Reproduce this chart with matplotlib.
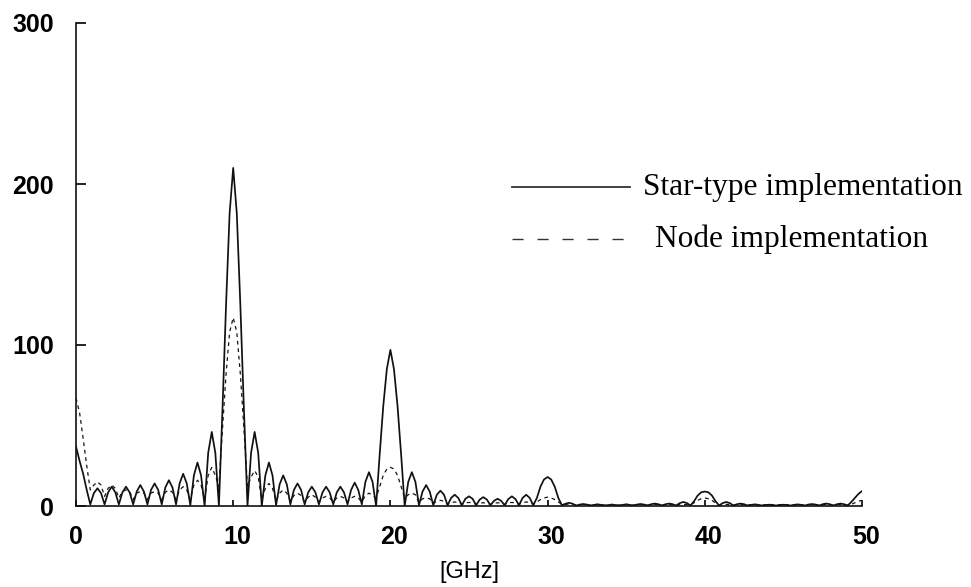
import numpy as np
import matplotlib
matplotlib.use("Agg")
import matplotlib.pyplot as plt
from matplotlib.transforms import ScaledTranslation

# spectrum, one sample every 10/44 GHz (0 .. 50 GHz)
freq_ghz = np.linspace(0, 50, 221)

# star-type implementation (solid), one row = null, rise, top, fall of a lobe
star_type = [
    37, 28, 20, 10,
    1, 8, 11, 8,
    1, 8.5, 12, 8.5,
    1, 8.5, 12, 8.5,
    1, 9, 13, 9,
    1, 10, 14, 10,
    1, 11.5, 16, 11.5,
    1, 14, 20, 14,
    0.5, 19, 27, 19,
    0, 33, 46, 33,
    0, 60, 125, 182,
    210, 182, 125, 60,
    0, 33, 46, 33,
    0, 19, 27, 19,
    0.5, 13.5, 19, 13.5,
    1, 10, 14, 10,
    1, 8.5, 12, 8.5,
    1, 8.5, 12, 8.5,
    1, 8.5, 12, 8.5,
    1, 10, 14.5, 10,
    1, 15, 21, 15,
    0, 32, 62, 85,
    97, 85, 62, 32,
    0, 15, 21, 15,
    0.5, 9, 13, 9,
    0.5, 7, 9.5, 7,
    0.5, 5, 7, 5,
    0.5, 4.5, 6, 4.5,
    0.5, 4, 5.5, 4,
    0.5, 3.2, 4.5, 3.2,
    0.5, 4.3, 6, 4.3,
    0.5, 5, 7, 5,
    0.5, 5, 12, 16.5,
    18, 16.5, 12, 5,
    0.5, 1.4, 2, 1.4,
    0.3, 0.9, 1.2, 0.9,
    0.3, 0.7, 1, 0.7,
    0.3, 0.6, 0.8, 0.6,
    0.3, 0.7, 1, 0.7,
    0.3, 0.9, 1.2, 0.9,
    0.3, 1.1, 1.5, 1.1,
    0.3, 1.1, 1.5, 1.1,
    0.3, 1.8, 2.5, 1.8,
    0.3, 3, 6.5, 8.5,
    9, 8.5, 6.5, 3,
    0.3, 1.8, 2.5, 1.8,
    0.3, 1.1, 1.5, 1.1,
    0.3, 0.7, 1, 0.7,
    0.3, 0.6, 0.8, 0.6,
    0.3, 0.6, 0.8, 0.6,
    0.3, 0.7, 1, 0.7,
    0.3, 0.9, 1.2, 0.9,
    0.3, 1.1, 1.5, 1.1,
    0.3, 1.1, 1.5, 1.1,
    0.3, 2.5, 5, 7.5,
    9.3,
]

# node implementation (dashed)
node_impl = [
    67, 58, 42, 25,
    10, 13, 15, 13,
    6, 11, 13, 11,
    5, 9, 10, 9,
    4, 8, 9, 8,
    4, 8, 9, 8,
    4, 8.5, 10, 8.5,
    4, 10, 12, 10,
    4, 13, 16, 13,
    4, 19, 24, 19,
    12, 48, 82, 108,
    117, 108, 82, 48,
    12, 18, 22, 18,
    4, 11, 14, 11,
    3, 8, 10, 8,
    3, 6.5, 8, 6.5,
    2.5, 5.5, 7, 5.5,
    2.5, 5, 6, 5,
    2.5, 5, 6, 5,
    2.5, 5, 6, 5,
    2.5, 6.5, 8, 6.5,
    5, 12, 19, 23,
    24, 23, 19, 12,
    5, 7, 8, 7,
    2, 4.5, 5, 4.5,
    1.5, 3, 3.5, 3,
    1, 2.2, 2.5, 2.2,
    1, 2, 2.2, 2,
    1, 1.8, 2, 1.8,
    1, 1.8, 2, 1.8,
    1, 2, 2.2, 2,
    1, 2.2, 2.5, 2.2,
    1, 2.5, 4, 5,
    5.5, 5, 4, 2.5,
    1, 1, 1.2, 1,
    0.5, 0.8, 1, 0.8,
    0.5, 0.8, 1, 0.8,
    0.5, 0.8, 1, 0.8,
    0.5, 0.8, 1, 0.8,
    0.5, 0.8, 1, 0.8,
    0.5, 0.8, 1, 0.8,
    0.5, 0.8, 1, 0.8,
    0.5, 0.8, 1, 0.8,
    1, 2, 3.5, 4.5,
    5, 4.5, 3.5, 2,
    0.5, 0.8, 1, 0.8,
    0.5, 0.8, 1, 0.8,
    0.5, 0.8, 1, 0.8,
    0.5, 0.8, 1, 0.8,
    0.5, 0.8, 1, 0.8,
    0.5, 0.8, 1, 0.8,
    0.5, 0.8, 1, 0.8,
    0.5, 0.8, 1, 0.8,
    0.5, 0.8, 1, 0.8,
    0.5, 1, 2, 3,
    3.5,
]

x_ticks = [0, 10, 20, 30, 40, 50]
y_ticks = [0, 100, 200, 300]
legend_labels = ["Star-type implementation", "Node implementation"]

plt.rcParams["font.family"] = ["Liberation Sans", "DejaVu Sans"]

fig = plt.figure(figsize=(9.71, 5.87), dpi=100)
ax = fig.add_axes([76 / 971, 81 / 587, 786 / 971, 483 / 587])

ax.plot(freq_ghz, star_type, color="#111111", lw=1.25, solid_joinstyle="round")
ax.plot(freq_ghz, node_impl, color="#151515", lw=0.9, linestyle=(0, (3, 3)))

ax.set_xlim(0, 50)
ax.set_ylim(0, 300)
ax.set_xticks(x_ticks)
ax.set_yticks(y_ticks)
ax.spines["top"].set_visible(False)
ax.spines["right"].set_visible(False)
for s in ["left", "bottom"]:
    ax.spines[s].set_linewidth(1.2)
    ax.spines[s].set_color("#111111")
ax.tick_params(axis="y", direction="in", length=7, width=1.2, pad=16, labelsize=18)
ax.tick_params(axis="x", direction="in", length=4, width=1.2, pad=14, labelsize=18)
for lbl in ax.get_xticklabels() + ax.get_yticklabels():
    lbl.set_fontweight("bold")
# x labels sit a little right of their ticks in the original
for lbl in ax.get_xticklabels()[1:]:
    lbl.set_transform(lbl.get_transform() + ScaledTranslation(4 / 100, 0, fig.dpi_scale_trans))

ax.set_xlabel("[GHz]", fontsize=17, labelpad=8)

# hand-made legend
ly = [1 - 187 / 587, 1 - 239 / 587]
ax.plot([512 / 971, 630 / 971], [ly[0], ly[0]], transform=fig.transFigure,
        color="#333333", lw=1.3, clip_on=False)
ax.plot([512 / 971, 630 / 971], [ly[1], ly[1]], transform=fig.transFigure,
        color="#333333", lw=1.0, linestyle=(0, (8, 10)), clip_on=False)
fig.text(643 / 971, ly[0], legend_labels[0], fontsize=22.6, va="center",
         family=["Liberation Serif", "DejaVu Serif"])
fig.text(655 / 971, ly[1], legend_labels[1], fontsize=22.6, va="center",
         family=["Liberation Serif", "DejaVu Serif"])

fig.savefig("out.png", dpi=100)
